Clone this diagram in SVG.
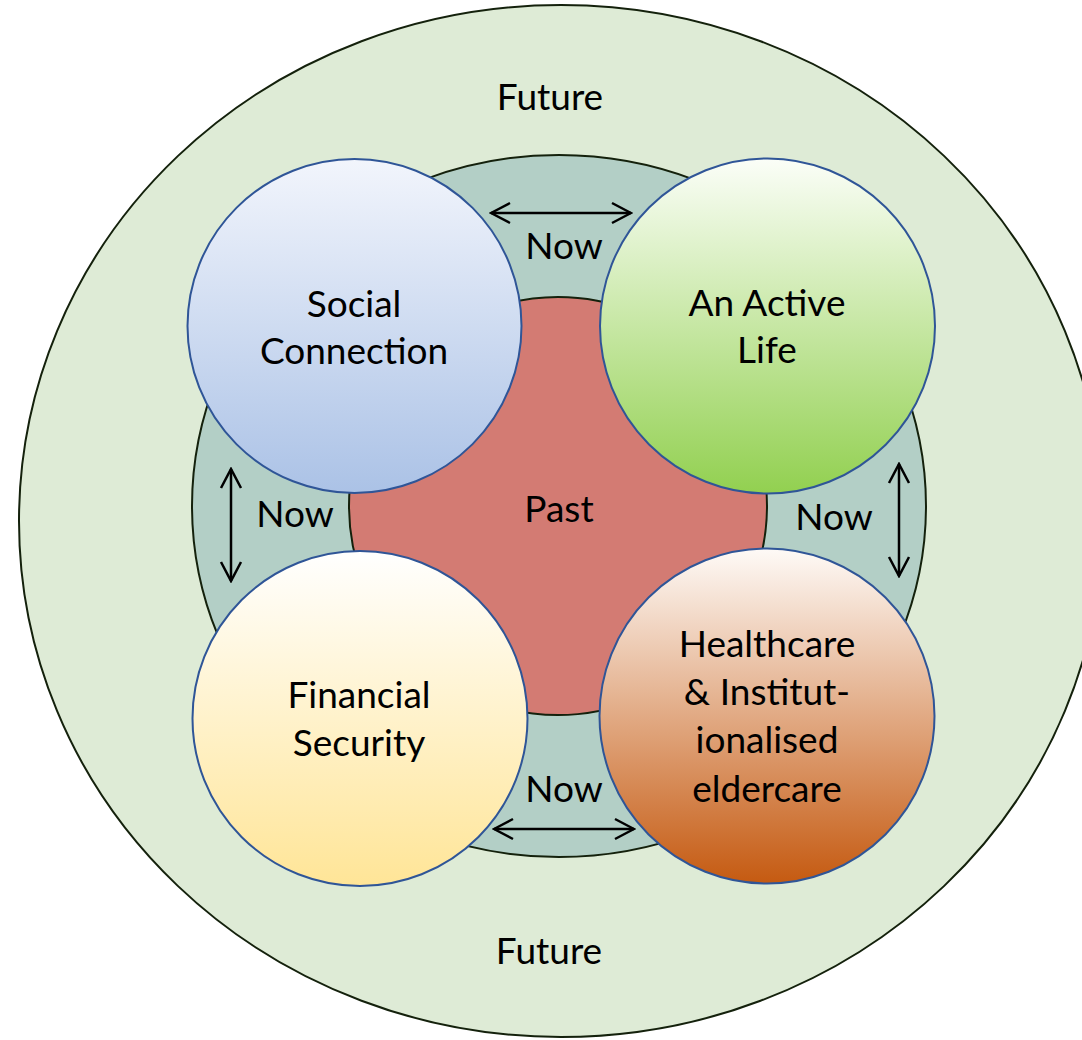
<svg xmlns="http://www.w3.org/2000/svg" width="1082" height="1040" viewBox="0 0 1082 1040">
  <style>
    .lbl { font-family: "Lato", "Liberation Sans", sans-serif; font-size: 37px; fill: #000; text-anchor: middle; }
    .node { stroke: #2F5597; stroke-width: 2; }
    .ring { stroke: #14210c; stroke-width: 2; }
    .arr { stroke: #000; stroke-width: 2.5; fill: none; marker-start: url(#ah); marker-end: url(#ah); }
  </style>
  <defs>
    <marker id="ah" viewBox="-22 -12 24 24" refX="0" refY="0" markerWidth="24" markerHeight="24" markerUnits="userSpaceOnUse" orient="auto-start-reverse">
      <path d="M-19,-10 L0,0 L-19,10" fill="none" stroke="#000" stroke-width="2.5"/>
    </marker>
    <linearGradient id="gSocial" x1="0" y1="0" x2="0" y2="1">
      <stop offset="0" stop-color="#F2F5FC"/>
      <stop offset="1" stop-color="#ABC2E6"/>
    </linearGradient>
    <linearGradient id="gActive" x1="0" y1="0" x2="0" y2="1">
      <stop offset="0" stop-color="#FBFEF8"/>
      <stop offset="1" stop-color="#92D050"/>
    </linearGradient>
    <linearGradient id="gFin" x1="0" y1="0" x2="0" y2="1">
      <stop offset="0" stop-color="#FFFFFF"/>
      <stop offset="1" stop-color="#FFE597"/>
    </linearGradient>
    <linearGradient id="gHealth" x1="0" y1="0" x2="0" y2="1">
      <stop offset="0" stop-color="#FEFAF7"/>
      <stop offset="1" stop-color="#C55A11"/>
    </linearGradient>
  </defs>

  <g id="future">
    <ellipse cx="561" cy="521" rx="542" ry="516" fill="#DEEBD6" class="ring"/>
    <text class="lbl" x="550" y="110">Future</text>
    <text class="lbl" x="549" y="964">Future</text>
  </g>

  <g id="now">
    <ellipse cx="559" cy="506" rx="367" ry="351" fill="#B3CFC6" class="ring"/>
  </g>

  <g id="past">
    <circle cx="558" cy="506" r="209" fill="#D37B73" class="ring"/>
    <text class="lbl" x="559" y="522">Past</text>
  </g>

  <g id="social-connection">
    <circle cx="354.5" cy="326" r="167" fill="url(#gSocial)" class="node"/>
    <text class="lbl" x="354" y="317">Social</text>
    <text class="lbl" x="354" y="364">Connection</text>
  </g>

  <g id="active-life">
    <circle cx="767.5" cy="326" r="167.5" fill="url(#gActive)" class="node"/>
    <text class="lbl" x="767" y="316">An Active</text>
    <text class="lbl" x="767" y="363">Life</text>
  </g>

  <g id="financial-security">
    <circle cx="360" cy="718.5" r="167.5" fill="url(#gFin)" class="node"/>
    <text class="lbl" x="359" y="708">Financial</text>
    <text class="lbl" x="359" y="756">Security</text>
  </g>

  <g id="healthcare">
    <circle cx="767" cy="716" r="167.5" fill="url(#gHealth)" class="node"/>
    <text class="lbl" x="767" y="657">Healthcare</text>
    <text class="lbl" x="767" y="705">&amp; Institut-</text>
    <text class="lbl" x="767" y="753">ionalised</text>
    <text class="lbl" x="767" y="802">eldercare</text>
  </g>

  <g id="connectors">
    <line class="arr" x1="491" y1="213" x2="631" y2="213"/>
    <line class="arr" x1="231" y1="469" x2="231" y2="581"/>
    <line class="arr" x1="899" y1="464" x2="899" y2="576"/>
    <line class="arr" x1="494" y1="829" x2="634" y2="829"/>
  </g>

  <g id="now-labels">
    <text class="lbl" x="564" y="259">Now</text>
    <text class="lbl" x="295" y="527">Now</text>
    <text class="lbl" x="834" y="530">Now</text>
    <text class="lbl" x="564" y="802">Now</text>
  </g>
</svg>
